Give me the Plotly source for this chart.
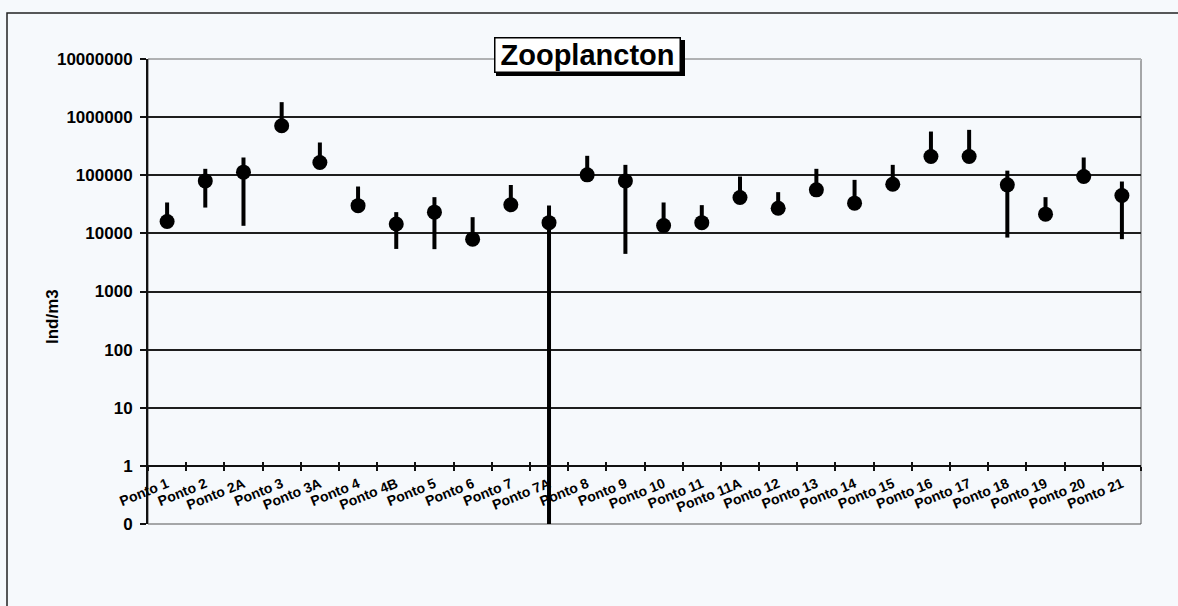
import plotly.graph_objects as go

# ---------------- data ----------------
categories = ["Ponto 1", "Ponto 2", "Ponto 2A", "Ponto 3", "Ponto 3A", "Ponto 4",
              "Ponto 4B", "Ponto 5", "Ponto 6", "Ponto 7", "Ponto 7A", "Ponto 8",
              "Ponto 9", "Ponto 10", "Ponto 11", "Ponto 11A", "Ponto 12", "Ponto 13",
              "Ponto 14", "Ponto 15", "Ponto 16", "Ponto 17", "Ponto 18", "Ponto 19",
              "Ponto 20", "Ponto 21"]

mean_vals = [16000, 80000, 113000, 710000, 166000, 30000,
             14500, 23200, 7950, 31000, 15300, 101600,
             80000, 13600, 15300, 41400, 27100, 56100,
             33100, 70200, 210000, 210000, 68300, 21400,
             95000, 44800]

max_vals = [34000, 129000, 202000, 1810000, 366000, 64000,
            23200, 42000, 19000, 68000, 30100, 216000,
            151000, 34000, 30600, 95000, 51200, 129000,
            83300, 151000, 565000, 604000, 120000, 42000,
            202000, 78000]

min_vals = [16000, 27800, 13500, 710000, 166000, 30000,
            5400, 5350, 7950, 31000, 0, 101600,
            4440, 13600, 15300, 41400, 27100, 56100,
            33100, 70200, 210000, 210000, 8470, 21400,
            95000, 7950]

ytick_vals = [0.1, 1, 10, 100, 1000, 10000, 100000, 1000000, 10000000]
ytick_text = ["0", "1", "10", "100", "1000", "10000", "100000", "1000000", "10000000"]

title_text = "Zooplancton"
ytitle_text = "Ind/m3"

# ---------------- layout constants ----------------
W, H = 1178, 606
ML, MR, MT, MB = 148, 37, 59, 82
PW = W - ML - MR
PH = H - MT - MB
YMIN, YMAX = -1, 7          # log10 range
BG = "#f6f9fc"
FONT = "Liberation Sans, Arial, sans-serif"


def px(x):
    return (x - ML) / PW


def py(y):
    return (H - MB - y) / PH


err_plus = [mx - m for mx, m in zip(max_vals, mean_vals)]
err_minus = [m - mn for mn, m in zip(min_vals, mean_vals)]

xaxis_pos = (0 - YMIN) / (YMAX - YMIN)   # category axis crosses at value 1

fig = go.Figure()

fig.add_trace(go.Scatter(
    x=categories, y=mean_vals, mode="markers",
    marker=dict(opacity=0), xaxis="x2", yaxis="y",
    showlegend=False, hoverinfo="skip"))

fig.add_trace(go.Scatter(
    x=categories, y=mean_vals, mode="markers",
    marker=dict(color="black", size=15, line=dict(width=0)),
    error_y=dict(type="data", symmetric=False, array=err_plus, arrayminus=err_minus,
                 color="black", thickness=4, width=0),
    xaxis="x", yaxis="y", showlegend=False, hoverinfo="skip"))

cat_axis_common = dict(
    type="category", categoryorder="array", categoryarray=categories,
    range=[-0.5, len(categories) - 0.5], anchor="free", position=xaxis_pos,
    tickson="boundaries", showgrid=False, zeroline=False, fixedrange=True,
)

# title box geometry (pixels)
TB_X0, TB_X1, TB_Y0, TB_Y1 = 493, 682, 37, 73
SH = 3  # shadow offset

fig.update_layout(
    width=W, height=H,
    margin=dict(l=ML, r=MR, t=MT, b=MB, pad=0),
    paper_bgcolor=BG, plot_bgcolor=BG,
    font=dict(family=FONT, color="black"),
    showlegend=False,
    xaxis=dict(
        **cat_axis_common,
        showline=True, linecolor="#111", linewidth=1.5,
        ticks="outside", ticklen=4, tickwidth=1.5, tickcolor="#111",
        ticklabelstandoff=4,
        tickangle=-22, tickfont=dict(size=14, color="black", weight="bold"),
    ),
    xaxis2=dict(
        **cat_axis_common,
        overlaying="x", showline=False,
        ticks="inside", ticklen=4, tickwidth=1.5, tickcolor="#111",
        showticklabels=False,
    ),
    yaxis=dict(
        type="log", range=[YMIN, YMAX], anchor="x",
        tickmode="array", tickvals=ytick_vals, ticktext=ytick_text,
        ticks="outside", ticklen=6, tickwidth=1.5, tickcolor="#111",
        ticklabelstandoff=4,
        showline=True, linecolor="#111", linewidth=2,
        showgrid=True, gridcolor="#1e1e1e", gridwidth=1.5,
        zeroline=False, fixedrange=True,
        tickfont=dict(size=17, color="black", weight="bold"),
    ),
    shapes=[
        # plot-area border
        dict(type="rect", xref="paper", yref="paper", x0=0, x1=1, y0=0, y1=1,
             line=dict(color="#555", width=1), layer="below"),
        # lighter top edge of the plot area
        dict(type="line", xref="paper", yref="paper", x0=0.002, x1=1, y0=1, y1=1,
             line=dict(color=BG, width=2.5), layer="above"),
        dict(type="line", xref="paper", yref="paper", x0=0.002, x1=1, y0=1, y1=1,
             line=dict(color="#6a6a6a", width=1), layer="above"),
        # outer chart border (only the visible left and top edges)
        dict(type="rect", xref="paper", yref="paper",
             x0=px(7), x1=px(W + 40), y0=py(H + 40), y1=py(13),
             line=dict(color="#222", width=1.5), layer="below"),
        # title box shadow
        dict(type="rect", xref="paper", yref="paper",
             x0=px(TB_X0 + SH), x1=px(TB_X1 + SH), y0=py(TB_Y1 + SH), y1=py(TB_Y0 + SH),
             fillcolor="black", line=dict(color="black", width=0), layer="above"),
    ],
    annotations=[
        # title
        dict(text="<b>" + title_text + "</b>", xref="paper", yref="paper",
             x=px((TB_X0 + TB_X1) / 2), y=py((TB_Y0 + TB_Y1) / 2),
             xanchor="center", yanchor="middle",
             showarrow=False, font=dict(size=29, color="black"),
             bgcolor="white", bordercolor="black", borderwidth=1.5,
             width=TB_X1 - TB_X0 - 5, height=TB_Y1 - TB_Y0 - 3, borderpad=0),
        # y-axis title
        dict(text="<b>" + ytitle_text + "</b>", xref="paper", yref="paper",
             x=px(52), y=py(317), xanchor="center", yanchor="middle",
             textangle=-90, showarrow=False, font=dict(size=17, color="black")),
    ],
)

fig.write_html("out.html",
               config={"displayModeBar": False},
               post_script="document.body.style.margin='0';document.body.style.overflow='hidden';")
